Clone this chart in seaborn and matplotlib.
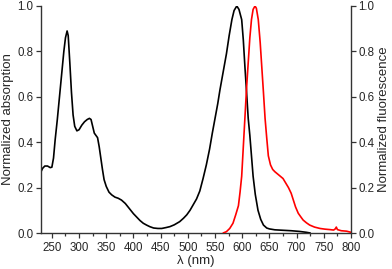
import matplotlib
matplotlib.use("Agg")
import matplotlib.pyplot as plt
import seaborn as sns
import pandas as pd
from matplotlib.ticker import MultipleLocator

abs_wl = [230, 233, 237, 242, 247, 250, 253, 256, 260, 264, 268, 272, 275, 278, 280, 283, 286, 289, 292, 296,
          300, 305, 310, 315, 319, 322, 325, 328, 331, 334, 337, 340, 343, 346, 350, 355, 360, 366, 372, 378,
          385, 390, 395, 400, 406, 412, 418, 424, 430, 437, 445, 452, 460, 467, 475, 485, 492, 498, 504, 510,
          516, 522, 528, 534, 540, 545, 550, 555, 559, 565, 571, 576, 581, 585, 590, 594, 599, 602, 605, 608,
          611, 614, 617, 620, 624, 629, 634, 639, 645, 650, 660, 675, 690, 705, 718, 725]
abs_val = [0.27, 0.285, 0.295, 0.295, 0.288, 0.29, 0.33, 0.41, 0.50, 0.60, 0.70, 0.80, 0.86, 0.89, 0.87, 0.75, 0.62, 0.52, 0.47, 0.45,
           0.455, 0.475, 0.49, 0.50, 0.505, 0.50, 0.47, 0.44, 0.43, 0.42, 0.38, 0.33, 0.28, 0.235, 0.205, 0.18, 0.168, 0.158, 0.153, 0.145,
           0.13, 0.115, 0.10, 0.085, 0.07, 0.055, 0.043, 0.035, 0.028, 0.022, 0.02, 0.02, 0.024, 0.028, 0.036, 0.05, 0.065, 0.08, 0.10, 0.125,
           0.15, 0.185, 0.24, 0.30, 0.37, 0.44, 0.505, 0.57, 0.63, 0.71, 0.79, 0.87, 0.94, 0.98, 1.0, 0.985, 0.94, 0.85, 0.73, 0.62,
           0.505, 0.43, 0.34, 0.25, 0.17, 0.10, 0.06, 0.035, 0.022, 0.018, 0.014, 0.012, 0.01, 0.007, 0.003, 0.0]

fl_wl = [565, 571, 577, 583, 588, 593, 596, 599, 602, 605, 608, 611, 614, 617, 620, 623.5, 626, 629.5, 633, 636,
         639, 642, 645, 648, 652, 656, 660, 665, 670, 675, 680, 685, 690, 694, 698, 703, 708, 712, 718, 724,
         733, 743, 752, 761, 768, 771, 773, 775, 782, 792, 800]
fl_val = [0.0, 0.006, 0.02, 0.043, 0.08, 0.12, 0.18, 0.25, 0.38, 0.51, 0.64, 0.75, 0.86, 0.94, 0.985, 1.0, 0.99, 0.94, 0.84, 0.73,
          0.62, 0.505, 0.42, 0.34, 0.30, 0.28, 0.27, 0.26, 0.25, 0.24, 0.22, 0.20, 0.175, 0.145, 0.115, 0.087, 0.07, 0.057, 0.045, 0.035,
          0.026, 0.02, 0.017, 0.015, 0.013, 0.018, 0.026, 0.015, 0.01, 0.008, 0.003]

x_ticks = [250, 300, 350, 400, 450, 500, 550, 600, 650, 700, 750, 800]
y_ticks = [0.0, 0.2, 0.4, 0.6, 0.8, 1.0]

sns.set_style("ticks")
plt.rcParams["font.family"] = ["Liberation Sans", "DejaVu Sans"]
plt.rcParams["xtick.direction"] = "out"
plt.rcParams["ytick.direction"] = "out"

fig = plt.figure(figsize=(3.92, 2.69), dpi=100)
ax = fig.add_axes([41/392, 36/269, 310/392, 227/269])
ax2 = ax.twinx()

df_abs = pd.DataFrame({"wl": abs_wl, "val": abs_val})
df_fl = pd.DataFrame({"wl": fl_wl, "val": fl_val})
sns.lineplot(data=df_abs, x="wl", y="val", ax=ax, color="black", lw=1.2)
sns.lineplot(data=df_fl, x="wl", y="val", ax=ax2, color="#ff0000", lw=1.2)

for a in (ax, ax2):
    a.set_xlim(230, 800)
    a.set_ylim(0, 1.0)
    a.set_yticks(y_ticks)
    a.set_yticklabels([f"{t:.1f}" for t in y_ticks])
    a.spines["top"].set_visible(False)
    for s in a.spines.values():
        s.set_linewidth(1.0)
        s.set_color("#333333")
    a.tick_params(axis="both", labelsize=8.3, length=3.5, width=0.9, pad=2, color="#333333")

ax.spines["right"].set_visible(False)
ax2.spines["left"].set_visible(False)
ax2.spines["bottom"].set_visible(False)
ax2.spines["right"].set_visible(True)

ax.set_xticks(x_ticks)
ax.xaxis.set_minor_locator(MultipleLocator(25))
ax.tick_params(axis="x", which="major", pad=3)
ax.tick_params(axis="x", which="minor", length=2.2, width=0.9, color="#333333")

ax.set_xlabel("λ (nm)", fontsize=9.5, labelpad=1)
ax.set_ylabel("Normalized absorption", fontsize=9.5, labelpad=2.5)
ax2.set_ylabel("Normalized fluorescence", fontsize=9.5, labelpad=2.5)

fig.savefig("out.png", dpi=100)
